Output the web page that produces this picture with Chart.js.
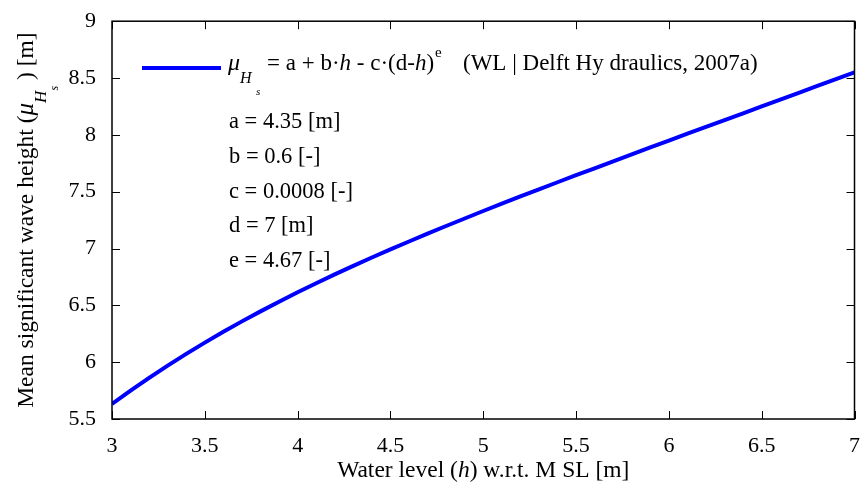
<!DOCTYPE html>
<html><head><meta charset="utf-8">
<script src="https://cdn.jsdelivr.net/npm/chart.js@4"></script>
<style>html,body{margin:0;padding:0;background:#fff;}canvas{display:block;}</style>
</head><body>
<canvas id="c" width="866" height="487"></canvas>
<script>
// ---- data ----
const waterLevel = [3.0,3.1,3.2,3.3,3.4,3.5,3.6,3.7,3.8,3.9,4.0,4.1,4.2,4.3,4.4,4.5,4.6,4.7,4.8,4.9,5.0,
                    5.1,5.2,5.3,5.4,5.5,5.6,5.7,5.8,5.9,6.0,6.1,6.2,6.3,6.4,6.5,6.6,6.7,6.8,6.9,7.0];
const meanHs = [5.632,5.749,5.862,5.970,6.073,6.172,6.267,6.359,6.447,6.532,6.615,6.695,6.772,6.847,6.921,
                6.992,7.062,7.131,7.198,7.264,7.330,7.394,7.458,7.521,7.583,7.645,7.706,7.767,7.828,7.889,
                7.949,8.010,8.070,8.130,8.190,8.250,8.310,8.370,8.430,8.490,8.550];
const xTickValues = [3,3.5,4,4.5,5,5.5,6,6.5,7];
const yTickValues = [5.5,6,6.5,7,7.5,8,8.5,9];
const paramLines = ["a = 4.35 [m]","b = 0.6 [-]","c = 0.0008 [-]","d = 7 [m]","e = 4.67 [-]"];
const sourceText = "(WL | Delft Hy draulics, 2007a)";

const FONT = "'Liberation Serif', 'Times New Roman', serif";
const BLUE = '#0000ff';

function drawRuns(ctx, x, y, runs) {
  let cx = x;
  for (const r of runs) {
    ctx.font = (r.italic ? 'italic ' : '') + r.size + 'px ' + FONT;
    if (r.x !== undefined) cx = r.x;
    cx += (r.gap || 0);
    ctx.fillText(r.t, cx, y + (r.dy || 0));
    cx += ctx.measureText(r.t).width;
  }
  return cx;
}
function runsWidth(ctx, runs) {
  let w = 0;
  for (const r of runs) { ctx.font = (r.italic ? 'italic ' : '') + r.size + 'px ' + FONT; w += ctx.measureText(r.t).width + (r.gap || 0); }
  return w;
}

const framePlugin = {
  id: 'frame',
  afterDraw(chart) {
    const ctx = chart.ctx, a = chart.chartArea;
    const xs = chart.scales.x, ys = chart.scales.y;
    ctx.save();
    ctx.strokeStyle = '#000'; ctx.lineWidth = 1.5;
    ctx.strokeRect(a.left, a.top, a.right - a.left, a.bottom - a.top);
    ctx.lineWidth = 1;
    const L = 8;
    ctx.beginPath();
    for (const v of xTickValues) {
      const px = Math.round(xs.getPixelForValue(v)) + 0.5;
      ctx.moveTo(px, a.bottom); ctx.lineTo(px, a.bottom - L);
      ctx.moveTo(px, a.top); ctx.lineTo(px, a.top + L);
    }
    for (const v of yTickValues) {
      const py = Math.round(ys.getPixelForValue(v)) + 0.5;
      ctx.moveTo(a.left, py); ctx.lineTo(a.left + L, py);
      ctx.moveTo(a.right, py); ctx.lineTo(a.right - L, py);
    }
    ctx.stroke();

    // legend
    ctx.fillStyle = '#000';
    ctx.textBaseline = 'alphabetic';
    ctx.textAlign = 'left';
    ctx.strokeStyle = BLUE; ctx.lineWidth = 4;
    ctx.beginPath(); ctx.moveTo(142, 68); ctx.lineTo(221, 68); ctx.stroke();
    drawRuns(ctx, 228, 70, [
      {t:'\u03bc', italic:true, size:24},
      {t:'H', italic:true, size:16, dy:13},
      {t:'s', italic:true, size:11, dy:25, x:256},
      {t:'= a + b\u00b7', size:23, x:267},
      {t:'h', italic:true, size:23},
      {t:' - c\u00b7(d-', size:23},
      {t:'h', italic:true, size:23},
      {t:')', size:23},
      {t:'e', size:15, dy:-13, gap:1},
      {t:sourceText, size:23, x:463}
    ]);
    ctx.font = '22.5px ' + FONT;
    paramLines.forEach((s, i) => ctx.fillText(s, 229, 128 + i * 34.75));

    // axis titles
    const xRuns = [
      {t:'Water level (', size:23.5},
      {t:'h', italic:true, size:23.5},
      {t:') w.r.t. M SL [m]', size:23.5}
    ];
    const xw = runsWidth(ctx, xRuns);
    drawRuns(ctx, (a.left + a.right) / 2 - xw / 2, 477, xRuns);

    const yRuns = [
      {t:'Mean significant wave height (', size:23.5},
      {t:'\u03bc', italic:true, size:25},
      {t:'H', italic:true, size:17, dy:13},
      {t:'s', italic:true, size:12, dy:25},
      {t:' ) [m]', size:23.5}
    ];
    const yw = runsWidth(ctx, yRuns);
    ctx.translate(33, (a.top + a.bottom) / 2);
    ctx.rotate(-Math.PI / 2);
    drawRuns(ctx, -yw / 2, 0, yRuns);
    ctx.restore();
  }
};

new Chart(document.getElementById('c'), {
  type: 'line',
  data: {
    labels: waterLevel,
    datasets: [{
      data: waterLevel.map((h, i) => ({x: h, y: meanHs[i]})),
      borderColor: BLUE, borderWidth: 4, pointRadius: 0, tension: 0, fill: false
    }]
  },
  options: {
    responsive: false, animation: false,
    layout: {padding: {left: 0, top: 19, right: 8, bottom: 0}},
    plugins: {legend: {display: false}, tooltip: {enabled: false}},
    scales: {
      x: {
        type: 'linear', min: 3, max: 7,
        afterBuildTicks: s => { s.ticks = xTickValues.map(v => ({value: v})); },
        afterFit: s => { s.height = 68; },
        grid: {display: false}, border: {display: false},
        ticks: {color: '#000', font: {family: FONT, size: 22}, padding: 6, maxRotation: 0, autoSkip: false,
                callback: v => String(v)}
      },
      y: {
        type: 'linear', min: 5.5, max: 9,
        afterBuildTicks: s => { s.ticks = yTickValues.map(v => ({value: v})); },
        afterFit: s => { s.width = 112; },
        grid: {display: false}, border: {display: false},
        ticks: {color: '#000', font: {family: FONT, size: 22}, padding: 8, autoSkip: false,
                callback: v => String(v)}
      }
    }
  },
  plugins: [framePlugin]
});
</script>
</body></html>
